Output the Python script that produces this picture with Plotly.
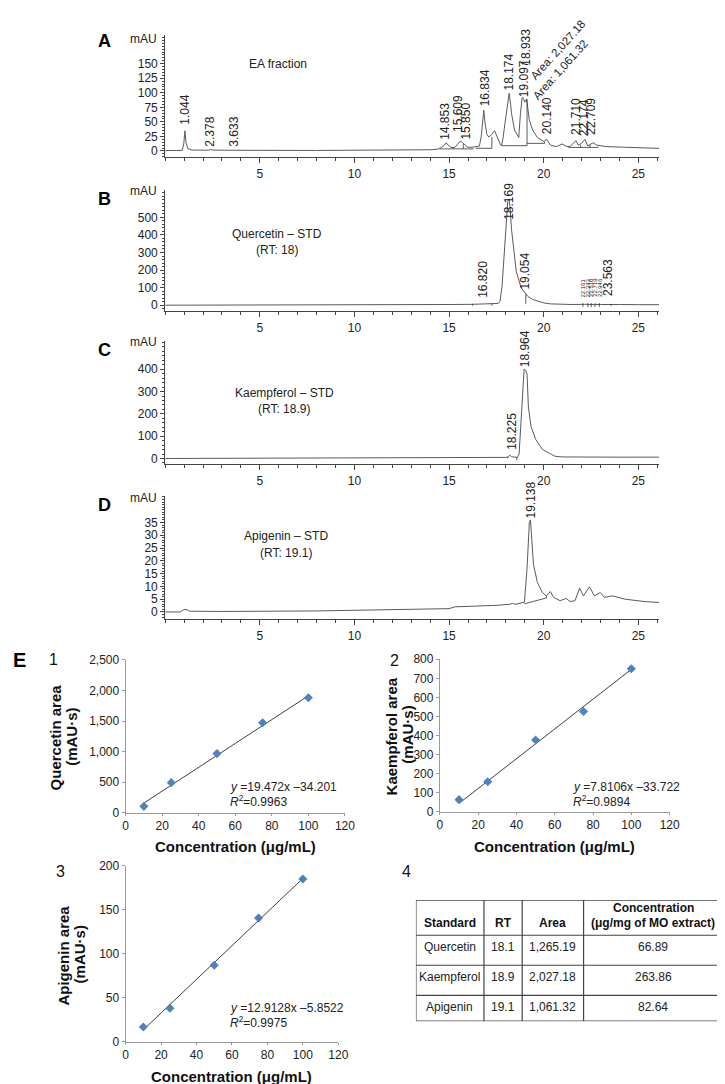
import plotly.graph_objects as go

W, H = 725, 1084
def px(x): return x / W
def py(y): return 1 - y / H

FONT = "Liberation Sans, Arial, sans-serif"
TXT = "#222222"
AX = "#444444"

# ---------------- Chromatogram data (retention time min, mAU) ----------------
A_rt = [0.0, 0.5, 0.9, 0.98, 1.044, 1.1, 1.2, 1.4, 2.0, 2.3, 2.38, 2.5, 3.0, 3.55, 3.63, 3.75, 5, 8, 11, 13,
        14.0, 14.4, 14.6, 14.75, 14.85, 14.95, 15.1, 15.3, 15.45, 15.6, 15.72, 15.85, 15.95, 16.1, 16.35, 16.6,
        16.7, 16.78, 16.834, 16.9, 17.0, 17.1, 17.25, 17.4, 17.55, 17.7, 17.77, 17.85, 17.95, 18.08, 18.174,
        18.25, 18.3, 18.46, 18.63, 18.68, 18.77, 18.86, 18.933, 19.0, 19.097, 19.24, 19.41, 19.67, 19.93, 20.02,
        20.14, 20.36, 20.62, 20.8, 20.96, 21.22, 21.4, 21.55, 21.71, 21.82, 22.0, 22.174, 22.33, 22.45, 22.6,
        22.8, 23.28, 24.3, 25.7, 26.1]
A_mau = [0.5, 0.5, 1.0, 12, 34.6, 14, 4, 1.5, 1.2, 1.2, 2.5, 1.5, 1.2, 1.2, 2.2, 1.3, 1.0, 0.8, 1.0, 1.5,
         2.0, 3.0, 6, 10, 14, 10, 6, 6, 11, 17, 14, 10, 7, 6, 6.5, 8,
         25, 55, 70, 48, 28, 24, 28, 35, 22, 12, 9, 22, 47, 80, 99,
         80, 64, 36, 24, 23, 64, 92, 90, 84, 89, 53, 36, 23, 17.6, 16,
         20.4, 10, 7.5, 9, 12, 7.5, 8, 12, 17.6, 10, 13, 19.9, 8.5, 11, 14,
         10, 7.5, 6.3, 4.6, 4.4]

B_rt = [0.0, 3, 8, 12, 15, 16.2, 16.5, 16.8, 16.95, 17.3, 17.6, 17.69, 17.8, 17.9, 18.03, 18.1, 18.169,
        18.22, 18.3, 18.38, 18.55, 18.81, 19.054, 19.15, 19.41, 19.67, 20.0, 20.36, 21.0, 21.5, 22.16, 22.3,
        22.5, 22.7, 23.0, 23.56, 24.0, 25.0, 26.1]
B_mau = [0, 0, 1, 2, 4, 5, 6, 8, 6, 7, 10, 22, 110, 270, 528, 590, 605,
         560, 430, 342, 192, 98, 62, 51, 33, 22.6, 13, 7.5, 5, 4, 5, 4,
         5, 4, 4, 5, 4, 3, 3]

C_rt = [0.0, 5, 10, 15, 17, 18.0, 18.1, 18.2, 18.3, 18.45, 18.6, 18.7, 18.81, 18.9, 18.964, 19.05, 19.12,
        19.19, 19.33, 19.58, 19.93, 20.4, 20.6, 21.0, 22.0, 24.0, 26.1]
C_mau = [0, 0.5, 1.5, 3, 4, 5, 6, 15, 8, 5, 5, 20, 202, 350, 400, 395, 378,
         231, 143, 85, 41, 19, 10, 7, 6, 6, 6]

D_rt = [0.0, 0.8, 1.0, 1.15, 1.3, 3, 8, 12, 15, 15.3, 16.5, 17.5, 18.2, 18.35, 18.5, 18.9, 18.98, 19.12,
        19.24, 19.3, 19.36, 19.46, 19.67, 19.93, 20.15, 20.35, 20.53, 20.87, 21.18, 21.39, 21.65, 21.9, 22.1,
        22.42, 22.68, 22.99, 23.2, 23.62, 24.3, 25.3, 26.1]
D_mau = [0, 0, 1.0, 0.9, 0.3, 0.2, 0.4, 0.8, 1.3, 2.0, 2.2, 2.6, 3.0, 3.4, 3.0, 3.5, 3.8, 17,
         35, 36, 30, 18.5, 11.5, 7.6, 6.3, 8, 5.7, 4.4, 5.3, 4.1, 4.4, 9.3, 6.3,
         9.8, 6.3, 7.6, 5.7, 6.3, 5, 4.1, 3.7]

# integration baselines / drop lines (None separates segments)
A_seg_rt = [14.5, 16.3, None, 15.2, 15.2, None, 15.75, 15.75, None, 16.4, 17.26, None, 17.26, 17.26, None,
            17.77, 19.12, None, 19.12, 19.12, None, 19.12, 20.05, None, 20.05, 20.05, None,
            21.3, 22.9, None, 21.95, 21.95, None, 22.45, 22.45]
A_seg_mau = [3.5, 3.5, None, 3.5, 6, None, 3.5, 12, None, 4.5, 4.5, None, 4.5, 24, None,
             9, 9, None, 9, 89, None, 13, 13, None, 13, 16, None,
             6, 6, None, 6, 10, None, 6, 11]
B_seg_rt = [16.23, 16.23, None, 17.26, 17.26, None, 19.054, 19.054, None, 22.07, 22.07, None, 22.33, 22.33, None,
            22.51, 22.51, None, 22.71, 22.71, None, 22.94, 22.94, None, 23.56, 23.56]
B_seg_mau = [-3, 8, None, -3, 10, None, 8, 62, None, -10, 12, None, -10, 12, None,
             -10, 12, None, -10, 12, None, -10, 12, None, -5, 8]
C_seg_rt = [18.1, 18.1, None, 18.58, 18.58]
C_seg_mau = [0, 8, None, -8, 6]
D_seg_rt = [18.98, 20.15, None, 20.15, 20.15]
D_seg_mau = [3.2, 5.5, None, 5.5, 6.3]

# peak labels: text, x position, bottom of label (mAU)
A_lbl = ["1.044", "2.378", "3.633", "14.853", "15.609", "15.850", "16.834", "18.174", "19.097", "18.933",
         "20.140", "21.710", "22.174", "22.709"]
A_lbl_x = [1.04, 2.39, 3.66, 14.77, 15.44, 15.88, 16.9, 18.15, 19.0, 19.09, 20.19, 21.73, 22.11, 22.51]
A_lbl_y = [41.4, 4.6, 4.6, 16, 28.9, 16.5, 72.5, 100.8, 89.5, 143, 25, 24, 22, 24]
B_lbl = ["16.820", "18.169", "19.054", "23.563"]
B_lbl_x = [16.78, 18.17, 19.0, 23.37]
B_lbl_y = [32, 472, 79, 41]
B_small_lbl = ["22.161", "22.343", "22.510", "22.719", "22.946"]
B_small_x = [22.07, 22.33, 22.51, 22.71, 22.94]
B_small_y = [34, 34, 34, 34, 34]
C_lbl = ["18.964", "18.225"]
C_lbl_x = [19.01, 18.33]
C_lbl_y = [402, 28]
D_lbl = ["19.138"]
D_lbl_x = [19.32]
D_lbl_y = [35.9]
A_area_lbl = ["Area: 2,027.18", "Area: 1,061.32"]
A_area_x = [20.74, 20.87]
A_area_y = [174, 138.7]

# ---------------- Calibration curve data ----------------
conc = [10, 25, 50, 75, 100]
quercetin_area = [106, 494, 968, 1473, 1881]
kaempferol_area = [64, 158, 377, 526, 750]
apigenin_area = [16.5, 38, 86.7, 140.5, 184.7]
eq_text = ["19.472x –34.201", "7.8106x –33.722", "12.9128x –5.8522"]
fit_r2 = ["0.9963", "0.9894", "0.9975"]
trend_x = [10, 100]
quercetin_trend = [160.5, 1913]
kaempferol_trend = [44.4, 747.3]
apigenin_trend = [13.3, 185.4]

# ---------------- Table data ----------------
tbl_cols = ["Standard", "RT", "Area", "Concentration<br>(μg/mg of MO extract)"]
tbl_standard = ["Quercetin", "Kaempferol", "Apigenin"]
tbl_rt = ["18.1", "18.9", "19.1"]
tbl_area = ["1,265.19", "2,027.18", "1,061.32"]
tbl_conc = ["66.89", "263.86", "82.64"]
tbl_colwidth = [69.4, 39, 62.6, 141.7]
tbl_rowheight = [35.6, 30.4, 30.6, 26]

fig = go.Figure()
layout = dict(width=W, height=H, margin=dict(l=0, r=0, t=0, b=0), paper_bgcolor="white",
              plot_bgcolor="white", showlegend=False, font=dict(family=FONT, color=TXT, size=12))
annotations = []
shapes = []

def note(text, x, y, size=12, color=TXT, xanchor="center", yanchor="middle", angle=0):
    annotations.append(dict(text=text, x=px(x), y=py(y), xref="paper", yref="paper", showarrow=False,
                            xanchor=xanchor, yanchor=yanchor, textangle=angle,
                            font=dict(size=size, color=color)))

chrom = [
    ("A", A_rt, A_mau, A_seg_rt, A_seg_mau, [-10.7, 198.6], 20.7, 144.0, [0, 25, 50, 75, 100, 125, 150], 5,
     "EA fraction", None, (272, 50), 24, 26.7),
    ("B", B_rt, B_mau, B_seg_rt, B_seg_mau, [-33.7, 655.6], 177.3, 300.0, [0, 100, 200, 300, 400, 500], 20,
     "Quercetin – STD", "(RT: 18)", (270.7, 221.7), 178.3, 186),
    ("C", C_rt, C_mau, C_seg_rt, C_seg_mau, [-25.2, 524.8], 330.7, 455.0, [0, 100, 200, 300, 400], 20,
     "Kaempferol – STD", "(RT: 18.9)", (278, 382.7), 331.7, 339),
    ("D", D_rt, D_mau, D_seg_rt, D_seg_mau, [-2.9, 45.2], 487.7, 612.3, [0, 5, 10, 15, 20, 25, 30, 35], 1,
     "Apigenin – STD", "(RT: 19.1)", (279.7, 528.3), 489, 496),
]
labels = {"A": (A_lbl, A_lbl_x, A_lbl_y), "B": (B_lbl, B_lbl_x, B_lbl_y),
          "C": (C_lbl, C_lbl_x, C_lbl_y), "D": (D_lbl, D_lbl_x, D_lbl_y)}

for i, (key, rt, mau, srt, smau, yr, ytop, ybot, yt, ymin, title, sub, tpos, mauy, lety) in enumerate(chrom):
    n = i + 1
    xs = "x" if n == 1 else f"x{n}"
    ys = "y" if n == 1 else f"y{n}"
    fig.add_trace(go.Scatter(x=rt, y=mau, mode="lines", line=dict(color="#5a5a5a", width=1),
                             xaxis=xs, yaxis=ys, hoverinfo="skip"))
    fig.add_trace(go.Scatter(x=srt, y=smau, mode="lines", line=dict(color="#333333", width=0.8),
                             xaxis=xs, yaxis=ys, hoverinfo="skip", connectgaps=False))
    layout["xaxis" if n == 1 else f"xaxis{n}"] = dict(
        domain=[px(157), px(660)], anchor=ys, range=[0, 26.1], showline=True, linecolor=AX, linewidth=1,
        ticks="outside", ticklen=5, tickcolor=AX, tickvals=[5, 10, 15, 20, 25], showgrid=False, zeroline=False,
        minor=dict(dtick=1, tick0=0, ticks="outside", ticklen=3, tickcolor=AX, showgrid=False),
        tickfont=dict(size=12, color=TXT))
    layout["yaxis" if n == 1 else f"yaxis{n}"] = dict(
        domain=[py(ybot), py(ytop)], anchor=xs, range=yr, showline=True, linecolor=AX, linewidth=1,
        ticks="outside", ticklen=4, tickcolor=AX, tickvals=yt, showgrid=False, zeroline=False,
        minor=dict(dtick=ymin, tick0=0, ticks="outside", ticklen=2, tickcolor=AX, showgrid=False),
        tickfont=dict(size=12, color=TXT))
    note(title, tpos[0], tpos[1])
    if sub:
        note(sub, tpos[0], tpos[1] + 16.3)
    note("mAU", 135, mauy)
    note(f"<b>{key}</b>", 95, lety, size=18, color="#000")
    lt, lx, ly = labels[key]
    for t, x, y in zip(lt, lx, ly):
        annotations.append(dict(text=t, x=x, y=y, xref=xs, yref=ys, showarrow=False, textangle=-90,
                                xanchor="center", yanchor="bottom", font=dict(size=12)))

for t, x, y in zip(B_small_lbl, B_small_x, B_small_y):
    annotations.append(dict(text=t, x=x, y=y, xref="x2", yref="y2", showarrow=False, textangle=-90,
                            xanchor="center", yanchor="bottom", font=dict(size=6)))
for t, x, y in zip(A_area_lbl, A_area_x, A_area_y):
    annotations.append(dict(text=t, x=x, y=y, xref="x", yref="y", showarrow=False, textangle=-48,
                            xanchor="center", yanchor="middle", font=dict(size=11.5)))

# ---------------- Calibration plots ----------------
cal = [
    (quercetin_area, quercetin_trend, [116.7, 340], [653.3, 808.3], [0, 2500], 500, ",d", 0,
     ("Quercetin area", 45, 731.7), ("(mAU·s)", 61.7, 731.7), ("1", 43.3, 653), (221, 782), 842.3),
    (kaempferol_area, kaempferol_trend, [436.7, 670.7], [652.7, 807.3], [0, 800], 100, "d", 1,
     ("Kaempferol area", 387.3, 730.5), ("(mAU·s)", 404.3, 729), ("2", 391, 654), (570, 782.3), 842.3),
    (apigenin_area, apigenin_trend, [116.7, 333.3], [861.7, 1040], [0, 200], 50, "d", 2,
     ("Apigenin area", 53.3, 952.5), ("(mAU·s)", 70, 952), ("3", 50, 867.3), (221, 1005.7), 1075),
]
for j, (area, trend, xd, yd, yr, dt, fmt, k, t1, t2, num, eqpos, xty) in enumerate(cal):
    n = 5 + j
    xs, ys = f"x{n}", f"y{n}"
    fig.add_trace(go.Scatter(x=trend_x, y=trend, mode="lines", line=dict(color="#3f3f3f", width=1),
                             xaxis=xs, yaxis=ys, hoverinfo="skip"))
    fig.add_trace(go.Scatter(x=conc, y=area, mode="markers",
                             marker=dict(symbol="diamond", size=7, color="#4f81bd"),
                             xaxis=xs, yaxis=ys, hoverinfo="skip"))
    layout[f"xaxis{n}"] = dict(domain=[px(xd[0]), px(xd[1])], anchor=ys, range=[0, 120], dtick=20,
                               showline=True, linecolor="#9a9a9a", linewidth=1, ticks="outside", ticklen=2,
                               tickcolor="#9a9a9a", showgrid=False, zeroline=False,
                               tickfont=dict(size=12, color=TXT))
    layout[f"yaxis{n}"] = dict(domain=[py(yd[1]), py(yd[0])], anchor=xs, range=yr, dtick=dt, tickformat=fmt,
                               showline=True, linecolor="#9a9a9a", linewidth=1, ticks="outside", ticklen=3,
                               tickcolor="#9a9a9a", showgrid=False, zeroline=False,
                               tickfont=dict(size=12, color=TXT))
    note("<b>Concentration (μg/mL)</b>", (xd[0] + xd[1]) / 2, xty, size=15, color="#111")
    for tt in (t1, t2):
        note(f"<b>{tt[0]}</b>", tt[1], tt[2], size=15, color="#111", angle=-90)
    note(num[0], num[1], num[2], size=16, color="#111")
    note(f"<i>y</i> ={eq_text[k]}", eqpos[0], eqpos[1], xanchor="left")
    note(f"<i>R</i><sup>2</sup>={fit_r2[k]}", eqpos[0], eqpos[1] + 14, xanchor="left")

note("<b>E</b>", 0, 653, size=20, color="#000", xanchor="left")
note("4", 403, 868, size=16, color="#111")

# ---------------- Table (drawn on its own hidden axis, units = column/row sizes) ----------------
tw = sum(tbl_colwidth)
th = sum(tbl_rowheight)
layout["xaxis8"] = dict(domain=[px(412.3), px(724.5)], anchor="y8", range=[0, tw], visible=False, fixedrange=True)
layout["yaxis8"] = dict(domain=[py(412.3 * 0 + 1019.3), py(896.7)], anchor="x8", range=[th, 0], visible=False,
                        fixedrange=True)
col_edges = [0]
for w_ in tbl_colwidth:
    col_edges.append(col_edges[-1] + w_)
row_edges = [0]
for h_ in tbl_rowheight:
    row_edges.append(row_edges[-1] + h_)
for xe in col_edges:
    shapes.append(dict(type="line", xref="x8", yref="y8", x0=xe, x1=xe, y0=0, y1=th,
                       line=dict(color="#444", width=1.2)))
for ye in row_edges:
    shapes.append(dict(type="line", xref="x8", yref="y8", x0=0, x1=tw, y0=ye, y1=ye,
                       line=dict(color="#444", width=1.2)))
col_centers = [(col_edges[c] + col_edges[c + 1]) / 2 for c in range(len(tbl_colwidth))]
for c, head in enumerate(tbl_cols):
    lines = head.split("<br>")
    for li, ln in enumerate(lines):
        yy = 23.3 - 15.7 * (len(lines) - 1 - li)
        annotations.append(dict(text=f"<b>{ln}</b>", x=col_centers[c], y=yy, xref="x8", yref="y8",
                                showarrow=False, xanchor="center", yanchor="middle",
                                font=dict(size=12, color="#111")))
cols = [tbl_standard, tbl_rt, tbl_area, tbl_conc]
for c, colvals in enumerate(cols):
    for r, val in enumerate(colvals):
        annotations.append(dict(text=val, x=col_centers[c], y=row_edges[r + 1] + 12, xref="x8", yref="y8",
                                showarrow=False, xanchor="center", yanchor="middle",
                                font=dict(size=12, color="#222")))

layout["annotations"] = annotations
layout["shapes"] = shapes
fig.update_layout(**layout)
fig.write_html("out.html")
